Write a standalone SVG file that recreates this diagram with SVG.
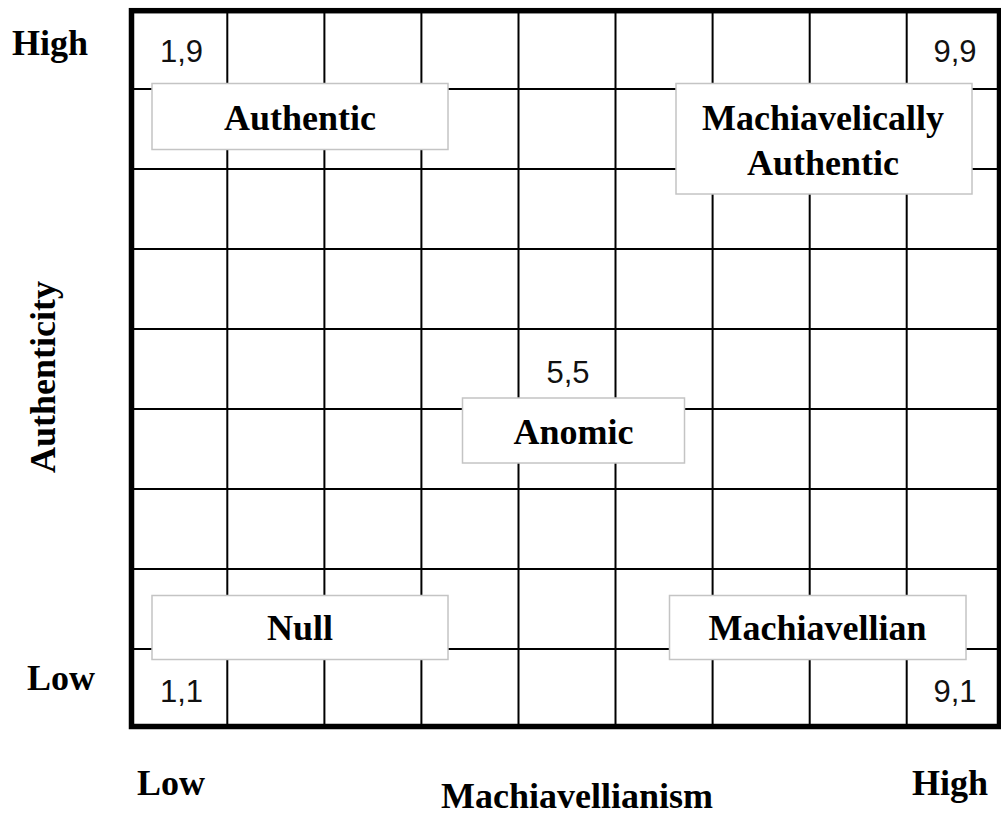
<svg xmlns="http://www.w3.org/2000/svg" width="1001" height="814" viewBox="0 0 1001 814">
<style>
.bg{fill:#ffffff}
.grid line{stroke:#000;stroke-width:2}
.border{fill:none;stroke:#000;stroke-width:5.5}
.box{fill:#ffffff;stroke:#c4c4c4;stroke-width:1.5}
.lbl{font-family:"Liberation Serif","Times New Roman",serif;font-weight:bold;font-size:36px;fill:#000;text-anchor:middle}
.ax{font-family:"Liberation Serif","Times New Roman",serif;font-weight:bold;font-size:36px;fill:#000}
.num{font-family:"Liberation Sans",Arial,sans-serif;font-size:31px;fill:#111;text-anchor:middle}
</style>
<rect class="bg" x="0" y="0" width="1001" height="814"/>
<g id="grid" class="grid">
<line x1="227.3" y1="10.7" x2="227.3" y2="726.5"/>
<line x1="324.4" y1="10.7" x2="324.4" y2="726.5"/>
<line x1="421.4" y1="10.7" x2="421.4" y2="726.5"/>
<line x1="518.5" y1="10.7" x2="518.5" y2="726.5"/>
<line x1="615.5" y1="10.7" x2="615.5" y2="726.5"/>
<line x1="712.6" y1="10.7" x2="712.6" y2="726.5"/>
<line x1="809.7" y1="10.7" x2="809.7" y2="726.5"/>
<line x1="906.7" y1="10.7" x2="906.7" y2="726.5"/>
<line x1="131.5" y1="89" x2="999.5" y2="89"/>
<line x1="131.5" y1="169" x2="999.5" y2="169"/>
<line x1="131.5" y1="249" x2="999.5" y2="249"/>
<line x1="131.5" y1="329" x2="999.5" y2="329"/>
<line x1="131.5" y1="409" x2="999.5" y2="409"/>
<line x1="131.5" y1="489" x2="999.5" y2="489"/>
<line x1="131.5" y1="569" x2="999.5" y2="569"/>
<line x1="131.5" y1="649" x2="999.5" y2="649"/>
</g>
<rect id="frame" class="border" x="131.5" y="10.7" width="868" height="715.8"/>
<g id="connectors"></g>
<g id="num-1-9"><text class="num" x="181.5" y="62">1,9</text></g>
<g id="num-9-9"><text class="num" x="955" y="62">9,9</text></g>
<g id="num-1-1"><text class="num" x="181.5" y="702">1,1</text></g>
<g id="num-9-1"><text class="num" x="955" y="702">9,1</text></g>
<g id="num-5-5"><text class="num" x="568" y="383">5,5</text></g>
<g id="node-authentic">
<rect class="box" x="152" y="83.5" width="296" height="66"/>
<text class="lbl" x="300" y="130">Authentic</text>
</g>
<g id="node-machiavelically-authentic">
<rect class="box" x="676" y="83.5" width="296" height="110.5"/>
<text class="lbl" x="823" y="129.5">Machiavelically</text>
<text class="lbl" x="823" y="175">Authentic</text>
</g>
<g id="node-anomic">
<rect class="box" x="462.5" y="398" width="222" height="65"/>
<text class="lbl" x="573.5" y="443.5">Anomic</text>
</g>
<g id="node-null">
<rect class="box" x="152" y="595.5" width="296" height="64"/>
<text class="lbl" x="300" y="640">Null</text>
</g>
<g id="node-machiavellian">
<rect class="box" x="669.5" y="595.5" width="296.5" height="64"/>
<text class="lbl" x="817.5" y="640">Machiavellian</text>
</g>
<g id="axis-y">
<text class="ax" x="12" y="55">High</text>
<text class="ax" x="27" y="690">Low</text>
<text class="ax" text-anchor="middle" transform="translate(55 377) rotate(-90)">Authenticity</text>
</g>
<g id="axis-x">
<text class="ax" x="137" y="795">Low</text>
<text class="ax" x="912" y="795">High</text>
<text class="ax" text-anchor="middle" x="577" y="808">Machiavellianism</text>
</g>
</svg>
